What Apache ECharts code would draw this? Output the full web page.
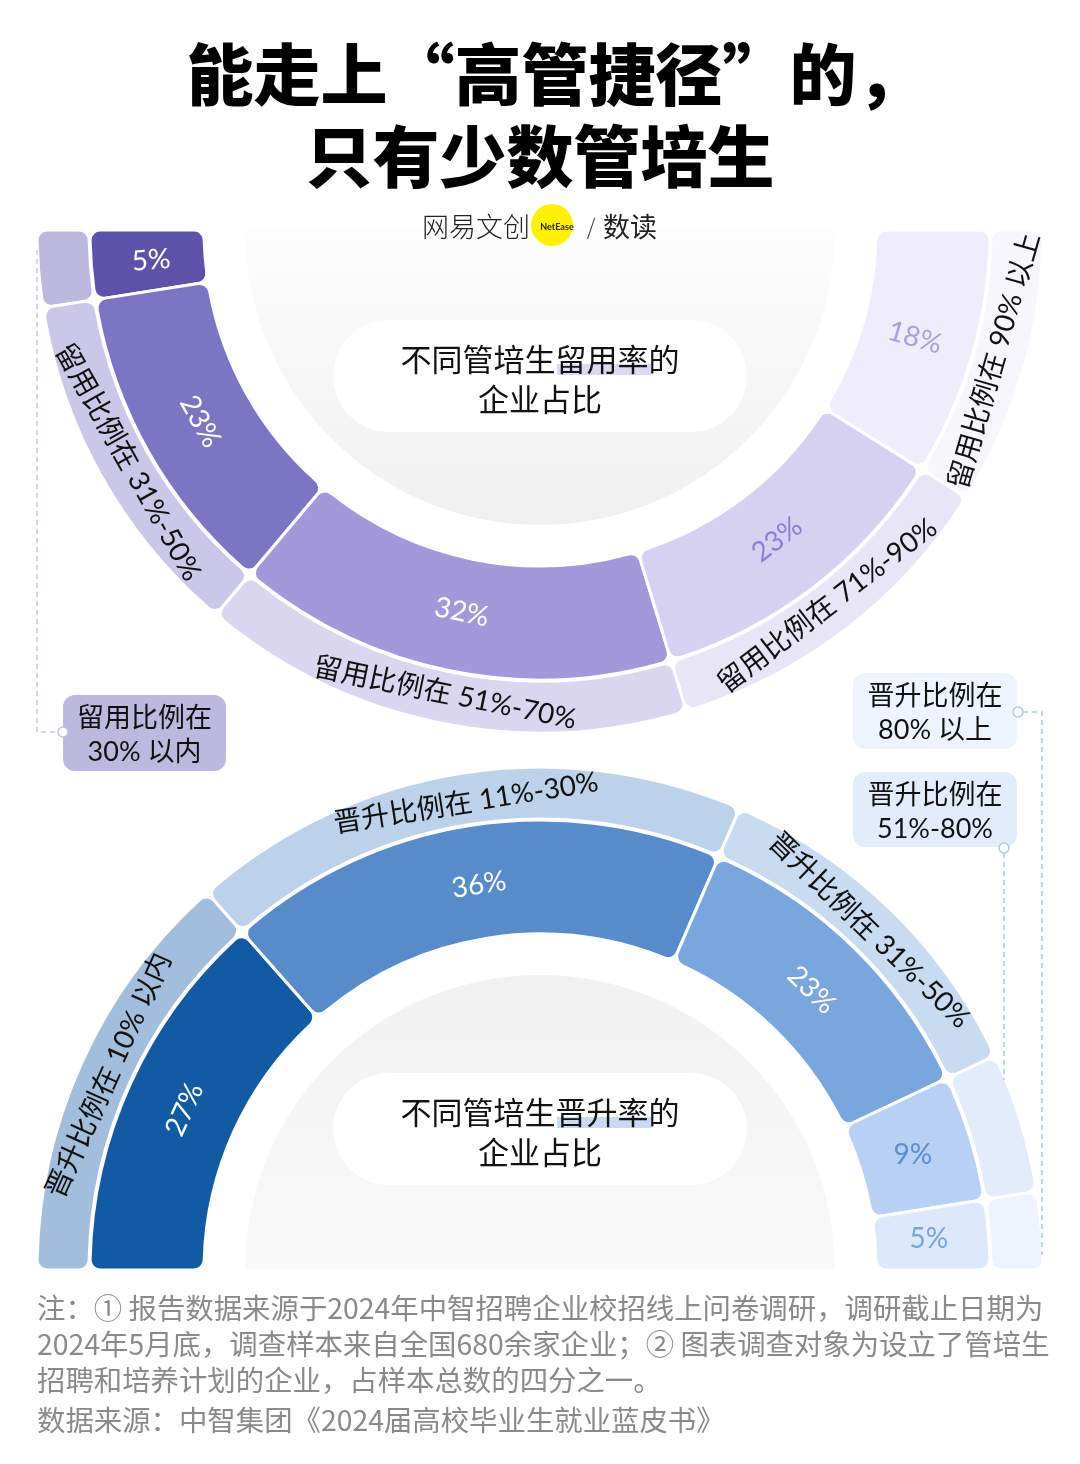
<!DOCTYPE html>
<html><head><meta charset="utf-8">
<script src="https://cdn.jsdelivr.net/npm/echarts@6/dist/echarts.min.js"></script>
<style>html,body{margin:0;padding:0;background:#fff}#c{width:1080px;height:1464px}</style>
</head><body><div id="c"></div>
<script>
// ---------- data ----------
const titleLines = ['能走上“高管捷径”的，', '只有少数管培生'];
const retentionTitle = ['不同管培生留用率的', '企业占比'];
const promotionTitle = ['不同管培生晋升率的', '企业占比'];
const retentionCats = ['留用比例在 30% 以内', '留用比例在 31%-50%', '留用比例在 51%-70%', '留用比例在 71%-90%', '留用比例在 90% 以上'];
const retentionVals = [5, 23, 32, 23, 18];
const promotionCats = ['晋升比例在 10% 以内', '晋升比例在 11%-30%', '晋升比例在 31%-50%', '晋升比例在 51%-80%', '晋升比例在 80% 以上'];
const promotionVals = [27, 36, 23, 9, 5];
const notes = [
  '注：① 报告数据来源于2024年中智招聘企业校招线上问卷调研，调研截止日期为',
  '2024年5月底，调查样本来自全国680余家企业；② 图表调查对象为设立了管培生',
  '招聘和培养计划的企业，占样本总数的四分之一。'
];
const source = '数据来源：中智集团《2024届高校毕业生就业蓝皮书》';

// ---------- styles ----------
const FONT = 'Lato, "Noto Sans CJK SC", sans-serif';
const CJK = '"Noto Sans CJK SC", sans-serif';
const topInnerColors = ['#5c52a9', '#7b75c4', '#a398da', '#d6d1f1', '#efecfc'];
const topOuterColors = ['#bdb8dd', '#cbc7e9', '#dbd6ef', '#e8e5f6', '#f7f6fd'];
const topValueColors = ['#ffffff', '#ffffff', '#ffffff', '#8b80d3', '#a99fe0'];
const topValueRotate = ['radial', 'tangential', 'tangential', 'tangential', 'radial'];
const topOuterShow = [false, true, true, true, true];
const botInnerColors = ['#135aa5', '#578bca', '#79a6dc', '#b7d0f3', '#dde9fb'];
const botOuterColors = ['#a2bedc', '#bcd1ea', '#c9dbf1', '#e3ecfa', '#eef4fd'];
const botValueColors = ['#ffffff', '#ffffff', '#ffffff', '#5b8fd0', '#78a4de'];
const botValueRotate = ['tangential', 'tangential', 'tangential', 0, 0];
const botOuterShow = [true, true, true, false, false];

const TOP_C = [540, 230], BOT_C = [540, 1270];

function ring(center, radius, start, end, clockwise, data, z) {
  return {
    type: 'pie', center, radius, startAngle: start, endAngle: end, clockwise,
    silent: true, z, emphasis: { disabled: true },
    itemStyle: { borderColor: '#fff', borderWidth: 3, borderRadius: 10 },
    label: { show: false },
    labelLine: { show: false },
    data
  };
}
// transparent ring that only carries the labels at the wanted radius
function labelRing(center, radius, start, end, clockwise, data) {
  return {
    type: 'pie', center, radius, startAngle: start, endAngle: end, clockwise,
    silent: true, z: 5, emphasis: { disabled: true },
    itemStyle: { color: 'rgba(0,0,0,0)', borderWidth: 0 },
    label: { show: true, position: 'inside', fontSize: 28, fontFamily: FONT, color: '#111' },
    labelLine: { show: false },
    data
  };
}
function disc(center, start, end, clockwise, c1, c2) {
  return {
    type: 'pie', center, radius: [0, 295], startAngle: start, endAngle: end, clockwise,
    silent: true, z: 1, label: { show: false }, labelLine: { show: false },
    data: [{ value: 1, itemStyle: { color: { type: 'linear', x: 0, y: 0, x2: 0, y2: 1,
      colorStops: [{ offset: 0, color: c1 }, { offset: 1, color: c2 }] } } }]
  };
}

const topInner = retentionVals.map((v, i) => ({ value: v, name: retentionCats[i], itemStyle: { color: topInnerColors[i] } }));
const topOuter = retentionVals.map((v, i) => ({ value: v, name: retentionCats[i], itemStyle: { color: topOuterColors[i] } }));
const topValueLabels = retentionVals.map((v, i) => ({ value: v, name: retentionCats[i],
  label: { formatter: '{c}%', rotate: topValueRotate[i], color: topValueColors[i] } }));
const topCatLabels = retentionVals.map((v, i) => ({ value: v, name: retentionCats[i],
  label: { show: topOuterShow[i], formatter: '{b}', rotate: 'tangential', color: '#111' } }));
const botInner = promotionVals.map((v, i) => ({ value: v, name: promotionCats[i], itemStyle: { color: botInnerColors[i] } }));
const botOuter = promotionVals.map((v, i) => ({ value: v, name: promotionCats[i], itemStyle: { color: botOuterColors[i] } }));
const botValueLabels = promotionVals.map((v, i) => ({ value: v, name: promotionCats[i],
  label: { formatter: '{c}%', rotate: botValueRotate[i], color: botValueColors[i] } }));
const botCatLabels = promotionVals.map((v, i) => ({ value: v, name: promotionCats[i],
  label: { show: botOuterShow[i], formatter: '{b}', rotate: 'tangential', color: '#111' } }));

function txt(text, x, y, size, opts) {
  return Object.assign({ type: 'text', x, y, z: 20, silent: true,
    style: Object.assign({ text, fontSize: size, fontFamily: CJK, fill: '#111', align: 'center', verticalAlign: 'middle' }, (opts && opts.style) || {}) },
    opts && opts.el || {});
}
function pill(y, hlColor, lines) {
  return [
    { type: 'rect', z: 10, silent: true, shape: { x: 333, y: y, width: 414, height: 112, r: 56 }, style: { fill: '#ffffff' } },
    { type: 'rect', z: 11, silent: true, shape: { x: 557, y: y + 44, width: 94, height: 11 }, style: { fill: hlColor } },
    txt(lines[0], 540, y + 39, 31),
    txt(lines[1], 540, y + 79, 31)
  ];
}
function box(x, y, w, h, fill, label) {
  const parts = label.split(' ');
  const l1 = parts[0], l2 = parts.slice(1).join(' ');
  return [
    { type: 'rect', z: 10, silent: true, shape: { x, y, width: w, height: h, r: 12 }, style: { fill } },
    txt(l1, x + w / 2, y + 23, 27, { style: { fontFamily: FONT } }),
    txt(l2, x + w / 2, y + 57, 27, { style: { fontFamily: FONT } })
  ];
}
function dash(points, color) {
  return { type: 'polyline', z: 9, silent: true, shape: { points },
    style: { stroke: color, lineWidth: 1.5, lineDash: [5, 4], fill: null } };
}
function dot(x, y, color) {
  return { type: 'circle', z: 12, silent: true, shape: { cx: x, cy: y, r: 5 }, style: { fill: '#fff', stroke: color, lineWidth: 1.5 } };
}

const graphics = [
  txt(titleLines[0], 555, 75, 67, { style: { fontWeight: 900, fill: '#000' } }),
  txt(titleLines[1], 540, 157, 67, { style: { fontWeight: 900, fill: '#000' } }),
  // logo
  txt('网易文创', 476, 227, 27, { style: { fill: '#222', fontWeight: 300 } }),
  { type: 'circle', z: 19, silent: true, shape: { cx: 552, cy: 225, r: 21 }, style: { fill: '#fff200' } },
  txt('NetEase', 557, 227, 9, { style: { fontFamily: 'Lato, sans-serif', fontWeight: 'bold', fill: '#222' } }),
  txt('/', 591, 227, 22, { style: { fill: '#333', fontWeight: 300 } }),
  txt('数读', 630, 227, 27, { style: { fill: '#222' } }),
  ...pill(320, '#dcd8f3', retentionTitle),
  ...pill(1073, '#c9dbf3', promotionTitle),
  // callouts
  dash([[37, 250], [37, 732], [58, 732]], '#c9c3ec'),
  dot(63, 732, '#c5bfe6'),
  ...box(63, 695, 163, 76, '#bdb8dd', retentionCats[0]),
  dash([[1023, 712], [1042, 712], [1042, 1255]], '#a9c8f0'),
  dot(1018, 712, '#a9c8f0'),
  ...box(853, 673, 164, 76, '#eef4fe', promotionCats[4]),
  dash([[1004, 853], [1004, 1080]], '#a9c8f0'),
  dot(1004, 848, '#a9c8f0'),
  ...box(853, 772, 164, 75, '#e2ecfa', promotionCats[3]),
];
notes.forEach((n, i) => graphics.push(txt(n, 37, 1308 + i * 36, 28.4, { style: { align: 'left', fill: '#8a8a8a' } })));
graphics.push(txt(source, 37, 1420, 28.4, { style: { align: 'left', fill: '#8a8a8a' } }));

const chart = echarts.init(document.getElementById('c'), null, { renderer: 'canvas' });
chart.setOption({
  animation: false,
  backgroundColor: '#ffffff',
  series: [
    disc(TOP_C, 180, 360, false, '#fdfdfd', '#f0f0f0'),
    ring(TOP_C, [336, 450], 180, 360, false, topInner, 3),
    ring(TOP_C, [451, 503], 180, 360, false, topOuter, 3),
    labelRing(TOP_C, [326, 448], 180, 360, false, topValueLabels),
    labelRing(TOP_C, [440, 500], 180, 360, false, topCatLabels),
    disc(BOT_C, 180, 0, true, '#f1f1f1', '#fafafa'),
    ring(BOT_C, [336, 450], 180, 0, true, botInner, 3),
    ring(BOT_C, [451, 503], 180, 0, true, botOuter, 3),
    labelRing(BOT_C, [326, 448], 180, 0, true, botValueLabels),
    labelRing(BOT_C, [440, 500], 180, 0, true, botCatLabels)
  ],
  graphic: { elements: graphics }
});
</script></body></html>
